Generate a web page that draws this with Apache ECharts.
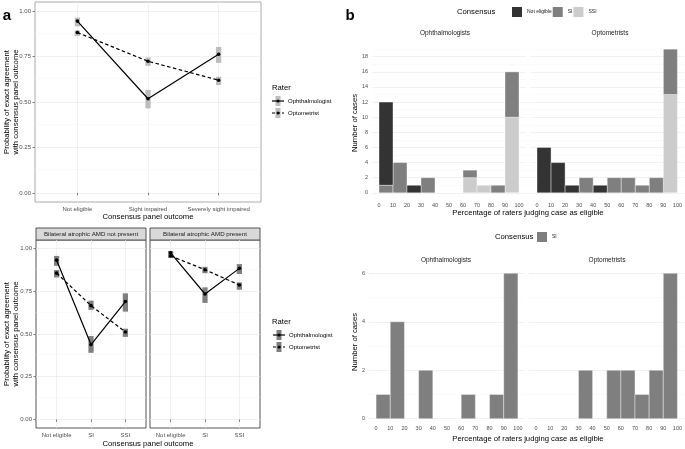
<!DOCTYPE html>
<html><head><meta charset="utf-8">
<script src="https://cdn.jsdelivr.net/npm/echarts@6/dist/echarts.min.js"></script>
<style>html,body{margin:0;padding:0;background:#fff}#c{width:685px;height:449px}</style>
</head><body><div id="c"></div>
<script>
// ---------------- data ----------------
const raters = ['Ophthalmologist', 'Optometrist'];
const outcomesLong = ['Not eligible', 'Sight impaired', 'Severely sight impaired'];
const outcomesShort = ['Not eligible', 'SI', 'SSI'];
const facetNames = ['Bilateral atrophic AMD not present', 'Bilateral atrophic AMD present'];

// panel a (top): all cases
const allOphMean = [0.945, 0.518, 0.763];
const allOphLow  = [0.916, 0.465, 0.715];
const allOphHigh = [0.964, 0.566, 0.803];
const allOptMean = [0.882, 0.724, 0.620];
const allOptLow  = [0.863, 0.699, 0.593];
const allOptHigh = [0.894, 0.745, 0.639];

// panel a (bottom): bilateral atrophic AMD not present
const npOphMean = [0.932, 0.438, 0.690];
const npOphLow  = [0.899, 0.390, 0.631];
const npOphHigh = [0.957, 0.488, 0.738];
const npOptMean = [0.856, 0.666, 0.512];
const npOptLow  = [0.831, 0.641, 0.483];
const npOptHigh = [0.874, 0.695, 0.531];

// panel a (bottom): bilateral atrophic AMD present
const prOphMean = [0.975, 0.734, 0.884];
const prOphLow  = [0.962, 0.682, 0.851];
const prOphHigh = [0.986, 0.773, 0.909];
const prOptMean = [0.957, 0.876, 0.787];
const prOptLow  = [0.945, 0.856, 0.759];
const prOptHigh = [0.968, 0.893, 0.802];

const yTicksA = [0, 0.25, 0.5, 0.75, 1];
const yMinorA = [0.125, 0.375, 0.625, 0.875];

// panel b: histogram of % raters judging case eligible
const binStarts = [0, 10, 20, 30, 40, 50, 60, 70, 80, 90];
const binWidth = 10;
const consensusLevels = ['Not eligible', 'SI', 'SSI'];
const ophNE  = [11, 0, 1, 0, 0, 0, 0, 0, 0, 0];
const ophSI  = [1, 4, 0, 2, 0, 0, 1, 0, 1, 6];
const ophSSI = [0, 0, 0, 0, 0, 0, 2, 1, 0, 10];
const optNE  = [6, 4, 1, 0, 1, 0, 0, 0, 0, 0];
const optSI  = [0, 0, 0, 2, 0, 2, 2, 1, 2, 6];
const optSSI = [0, 0, 0, 0, 0, 0, 0, 0, 0, 13];
// bottom: SI consensus cases only
const siOnlyOph = [1, 4, 0, 2, 0, 0, 1, 0, 1, 6];
const siOnlyOpt = [0, 0, 0, 2, 0, 2, 2, 1, 2, 6];

const xTicksB = [0, 10, 20, 30, 40, 50, 60, 70, 80, 90, 100];
const yTicksBTop = [0, 2, 4, 6, 8, 10, 12, 14, 16, 18];
const yMinorBTop = [1, 3, 5, 7, 9, 11, 13, 15, 17, 19];
const yTicksBBot = [0, 2, 4, 6];
const yMinorBBot = [1, 3, 5];

// ---------------- styles ----------------
const FONT = 'Liberation Sans, Arial, sans-serif';
const colNE = '#333333', colSI = '#7f7f7f', colSSI = '#cccccc';
const fillColors = {'Not eligible': colNE, 'SI': colSI, 'SSI': colSSI};
const errTop = '#bdbdbd', errBot = '#7f7f7f';

const chart = echarts.init(document.getElementById('c'), null, {renderer: 'canvas'});

const grids = [
  {left: 35, top: 2, width: 226, height: 200, show: true, borderColor: '#aaaaaa', borderWidth: 1, backgroundColor: 'transparent'},
  {left: 36, top: 240, width: 110, height: 188, show: true, borderColor: '#555555', borderWidth: 1, backgroundColor: 'transparent'},
  {left: 150, top: 240, width: 110, height: 188, show: true, borderColor: '#555555', borderWidth: 1, backgroundColor: 'transparent'},
  {left: 372, top: 42, width: 154, height: 158},
  {left: 530, top: 42, width: 155, height: 158},
  {left: 369, top: 266, width: 156, height: 160},
  {left: 529, top: 266, width: 156, height: 160}
];

function aX(gi, names) {
  return {type: 'value', gridIndex: gi, min: 0.4, max: 3.6,
    axisLine: {show: false},
    axisTick: {show: true, customValues: [1, 2, 3], length: 2.5, lineStyle: {color: '#333', width: 0.6}},
    axisLabel: {show: true, customValues: [1, 2, 3], formatter: v => names[Math.round(v) - 1], fontSize: 6, color: '#4d4d4d', margin: 4, fontFamily: FONT},
    splitLine: {show: true, lineStyle: {color: '#ebebeb', width: 0.7}}};
}
function aY(gi, showLabels) {
  return {type: 'value', gridIndex: gi, min: -0.05, max: 1.05,
    axisLine: {show: false},
    axisTick: {show: showLabels, customValues: yTicksA, length: 2.5, lineStyle: {color: '#333', width: 0.6}},
    axisLabel: {show: showLabels, customValues: yTicksA, formatter: v => v.toFixed(2), fontSize: 6, color: '#4d4d4d', margin: 4, fontFamily: FONT},
    splitLine: {show: true, lineStyle: {color: '#ebebeb', width: 0.7}}};
}
function bX(gi, margin) {
  return {type: 'value', gridIndex: gi, min: -5, max: 105,
    axisLine: {show: false}, axisTick: {show: false, customValues: xTicksB},
    axisLabel: {show: true, customValues: xTicksB, fontSize: 5.5, color: '#4d4d4d', margin: margin, fontFamily: FONT},
    splitLine: {show: false}};
}
function bY(gi, min, max, ticks, showLabels) {
  return {type: 'value', gridIndex: gi, min: min, max: max,
    axisLine: {show: false}, axisTick: {show: false, customValues: ticks},
    axisLabel: {show: showLabels, customValues: ticks, fontSize: 5.5, color: '#4d4d4d', margin: 4, fontFamily: FONT},
    splitLine: {show: true, lineStyle: {color: '#ebebeb', width: 0.7}}};
}

const xAxes = [aX(0, outcomesLong), aX(1, outcomesShort), aX(2, outcomesShort), bX(3, 2), bX(4, 2), bX(5, -1), bX(6, -1)];
const yAxes = [aY(0, true), aY(1, true), aY(2, false),
  bY(3, -0.95, 19.95, yTicksBTop, true), bY(4, -0.95, 19.95, yTicksBTop, false),
  bY(5, -0.3, 6.3, yTicksBBot, true), bY(6, -0.3, 6.3, yTicksBBot, false)];

function minorGrid(gi, values) {
  return {type: 'line', xAxisIndex: gi, yAxisIndex: gi, data: [], z: 0, silent: true,
    markLine: {silent: true, symbol: 'none', label: {show: false}, animation: false, z: 0, zlevel: 0,
      lineStyle: {color: '#f4f4f4', width: 0.5, type: 'solid'},
      data: values.map(v => ({yAxis: v}))}};
}

function errSeries(gi, low, high, color) {
  return {type: 'custom', xAxisIndex: gi, yAxisIndex: gi, z: 10, silent: true,
    data: low.map((l, i) => [i + 1, l, high[i]]),
    encode: {x: 0, y: [1, 2]},
    renderItem: function (params, api) {
      const x = api.value(0);
      const lo = api.coord([x, api.value(1)]);
      const hi = api.coord([x, api.value(2)]);
      return {type: 'rect', shape: {x: lo[0] - 2.6, y: hi[1], width: 5.2, height: lo[1] - hi[1]}, style: {fill: color}};
    }};
}
function lineSeries(gi, name, mean, dashed) {
  return {type: 'line', name: name, xAxisIndex: gi, yAxisIndex: gi, z: 12, silent: true,
    data: mean.map((m, i) => [i + 1, m]),
    symbol: 'circle', symbolSize: 3.6, itemStyle: {color: '#000'},
    lineStyle: {color: '#000', width: 1.2, type: dashed ? [3.5, 2.5] : 'solid'}};
}

function histSeries(gi, name, counts, below) {
  const data = [];
  counts.forEach((c, i) => {
    if (c > 0) {
      const base = below.reduce((s, arr) => s + arr[i], 0);
      data.push([binStarts[i], binStarts[i] + binWidth, base, base + c]);
    }
  });
  return {type: 'custom', name: name, xAxisIndex: gi, yAxisIndex: gi, z: 10, silent: true,
    itemStyle: {color: fillColors[name]},
    data: data, encode: {x: [0, 1], y: [2, 3]},
    renderItem: function (params, api) {
      const p0 = api.coord([api.value(0), api.value(2)]);
      const p1 = api.coord([api.value(1), api.value(3)]);
      return {type: 'rect', shape: {x: p0[0], y: p1[1], width: p1[0] - p0[0], height: p0[1] - p1[1]},
        style: {fill: api.visual('color'), stroke: '#ffffff', lineWidth: 0.4}};
    }};
}

const series = [
  minorGrid(0, yMinorA), minorGrid(1, yMinorA), minorGrid(2, yMinorA),
  minorGrid(3, yMinorBTop), minorGrid(4, yMinorBTop), minorGrid(5, yMinorBBot), minorGrid(6, yMinorBBot),
  errSeries(0, allOphLow, allOphHigh, errTop), errSeries(0, allOptLow, allOptHigh, errTop),
  lineSeries(0, raters[0], allOphMean, false), lineSeries(0, raters[1], allOptMean, true),
  errSeries(1, npOphLow, npOphHigh, errBot), errSeries(1, npOptLow, npOptHigh, errBot),
  lineSeries(1, raters[0], npOphMean, false), lineSeries(1, raters[1], npOptMean, true),
  errSeries(2, prOphLow, prOphHigh, errBot), errSeries(2, prOptLow, prOptHigh, errBot),
  lineSeries(2, raters[0], prOphMean, false), lineSeries(2, raters[1], prOptMean, true),
  histSeries(3, 'SSI', ophSSI, []), histSeries(3, 'SI', ophSI, [ophSSI]), histSeries(3, 'Not eligible', ophNE, [ophSSI, ophSI]),
  histSeries(4, 'SSI', optSSI, []), histSeries(4, 'SI', optSI, [optSSI]), histSeries(4, 'Not eligible', optNE, [optSSI, optSI]),
  histSeries(5, 'SI', siOnlyOph, []), histSeries(6, 'SI', siOnlyOpt, [])
];

function txt(x, y, text, size, opts) {
  opts = opts || {};
  return {type: 'text', x: x, y: y, rotation: opts.rot || 0, silent: true,
    style: {text: text, fontSize: size, fontFamily: FONT, fill: opts.color || '#000', fontWeight: opts.bold ? 'bold' : 'normal',
      align: opts.align || 'center', verticalAlign: 'middle', lineHeight: opts.lh || size * 1.2}};
}
function raterKey(x, y, color, dashed, label) {
  return [
    {type: 'rect', silent: true, shape: {x: x + 2.5, y: y - 5, width: 5, height: 10}, style: {fill: color}},
    {type: 'line', silent: true, shape: {x1: x - 1, y1: y, x2: x + 11, y2: y}, style: {stroke: '#000', lineWidth: 1.2, lineDash: dashed ? [3, 2] : null}},
    {type: 'circle', silent: true, shape: {cx: x + 5, cy: y, r: 1.5}, style: {fill: '#000'}},
    txt(x + 15, y, label, 6, {align: 'left'})
  ];
}

const graphics = [
  txt(7, 16, 'a', 15, {bold: true}),
  txt(11, 102, 'Probability of exact agreement\nwith consensus panel outcome', 7.7, {rot: Math.PI / 2, lh: 9}),
  txt(148, 217, 'Consensus panel outcome', 7.7),
  txt(272, 88, 'Rater', 7.7, {align: 'left'}),
  ...raterKey(273, 101, errTop, false, raters[0]),
  ...raterKey(273, 113, errTop, true, raters[1]),
  {type: 'rect', silent: true, shape: {x: 36, y: 228, width: 110, height: 12}, style: {fill: '#d9d9d9', stroke: '#555', lineWidth: 1}},
  {type: 'rect', silent: true, shape: {x: 150, y: 228, width: 110, height: 12}, style: {fill: '#d9d9d9', stroke: '#555', lineWidth: 1}},
  txt(91, 234, facetNames[0], 6.2, {color: '#1a1a1a'}),
  txt(205, 234, facetNames[1], 6.2, {color: '#1a1a1a'}),
  txt(11, 334, 'Probability of exact agreement\nwith consensus panel outcome', 7.7, {rot: Math.PI / 2, lh: 9}),
  txt(148, 444, 'Consensus panel outcome', 7.7),
  txt(272, 322, 'Rater', 7.7, {align: 'left'}),
  ...raterKey(274, 335, errBot, false, raters[0]),
  ...raterKey(274, 347, errBot, true, raters[1]),

  txt(350, 16, 'b', 15, {bold: true}),
  txt(457, 12, 'Consensus', 7.7, {align: 'left'}),
  txt(445, 33, 'Ophthalmologists', 6.5, {color: '#1a1a1a'}),
  txt(610, 33, 'Optometrists', 6.5, {color: '#1a1a1a'}),
  txt(355, 123, 'Number of cases', 7.7, {rot: Math.PI / 2}),
  txt(528, 213, 'Percentage of raters judging case as eligible', 7.7),
  txt(495, 237, 'Consensus', 7.7, {align: 'left'}),
  txt(446, 260, 'Ophthalmologists', 6.5, {color: '#1a1a1a'}),
  txt(607, 260, 'Optometrists', 6.5, {color: '#1a1a1a'}),
  txt(355, 342, 'Number of cases', 7.7, {rot: Math.PI / 2}),
  txt(528, 439, 'Percentage of raters judging case as eligible', 7.7)
];

chart.setOption({
  animation: false,
  backgroundColor: '#ffffff',
  textStyle: {fontFamily: FONT},
  grid: grids,
  xAxis: xAxes,
  yAxis: yAxes,
  legend: [
    {left: 512, top: 7, data: consensusLevels, icon: 'rect', itemWidth: 10, itemHeight: 10, itemGap: 1, padding: 0,
      selectedMode: false, textStyle: {fontSize: 5, color: '#1a1a1a', fontFamily: FONT}},
    {left: 537, top: 232, data: ['SI'], icon: 'rect', itemWidth: 10, itemHeight: 10, padding: 0,
      selectedMode: false, textStyle: {fontSize: 5, color: '#1a1a1a', fontFamily: FONT}}
  ],
  series: series,
  graphic: graphics
});
</script>
</body></html>
